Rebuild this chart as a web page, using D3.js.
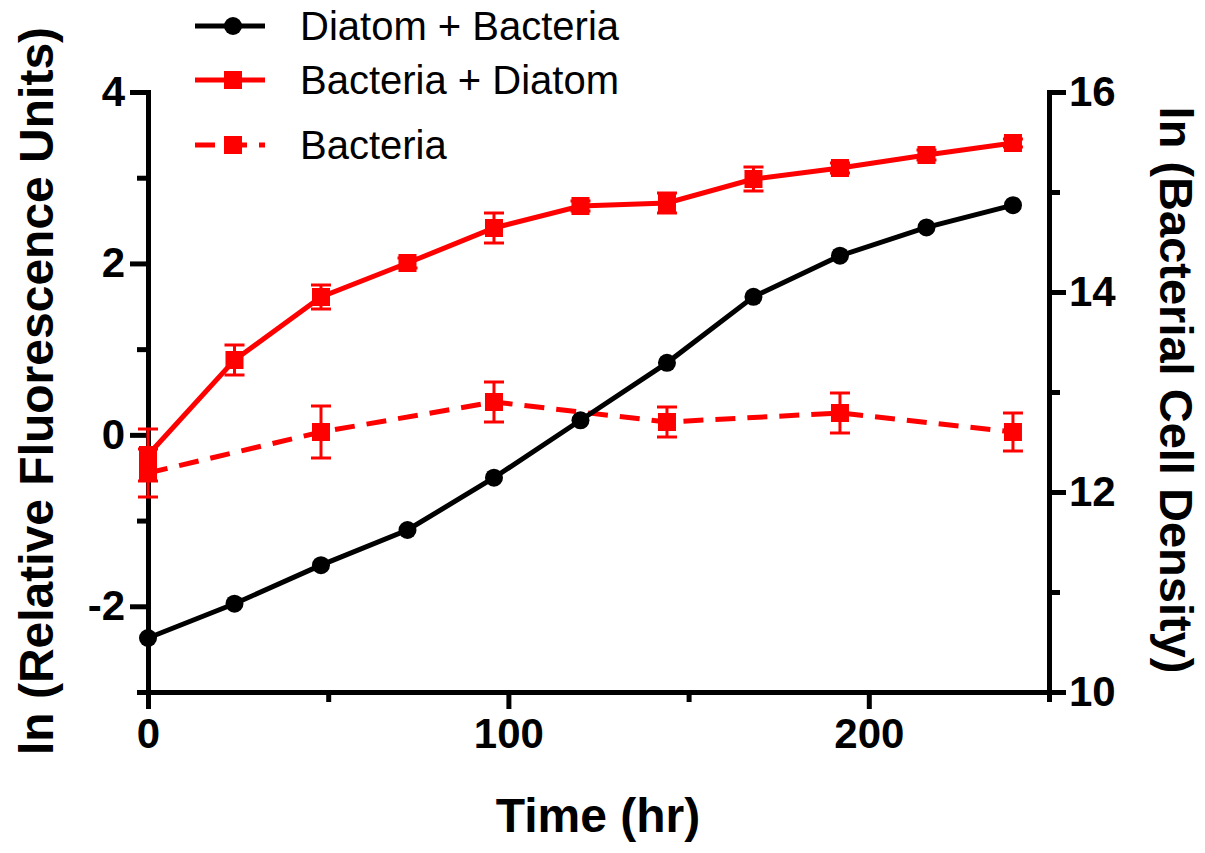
<!DOCTYPE html>
<html>
<head>
<meta charset="utf-8">
<script src="https://cdn.jsdelivr.net/npm/d3@7.9.0/dist/d3.min.js"></script>
<style>
  body { margin: 0; background: #fff; }
  svg { display: block; font-family: "Liberation Sans", Arial, Helvetica, sans-serif; }
  .axis path, .axis line { stroke: #000; stroke-width: 5; }
  .axis text { font-size: 42px; font-weight: bold; fill: #000; }
  .title { font-size: 48px; font-weight: bold; }
  .legend text { font-size: 40px; }
</style>
</head>
<body>
<svg id="chart" width="1205" height="853"></svg>
<script>
// ---- data ----
const hours = [0, 24, 48, 72, 96, 120, 144, 168, 192, 216, 240];
// ln relative fluorescence (left axis)
const diatomBacteria = [-2.37, -1.97, -1.52, -1.11, -0.50, 0.17, 0.84, 1.61, 2.09, 2.42, 2.68];
// ln bacterial cell density (right axis)
const bacteriaDiatom = [12.37, 13.32, 13.95, 14.29, 14.64, 14.86, 14.89, 15.13, 15.24, 15.37, 15.49];
const bacteriaDiatomErr = [0.26, 0.15, 0.12, 0.05, 0.15, 0.05, 0.10, 0.12, 0.05, 0.05, 0.04];
const bacteriaHours = [0, 48, 96, 144, 192, 240];
const bacteria = [12.19, 12.60, 12.90, 12.70, 12.79, 12.60];
const bacteriaErr = [0.24, 0.26, 0.20, 0.15, 0.20, 0.19];

const xMajor = [0, 100, 200];
const xMinor = [50, 150, 250];
const yLeftMajor = [4, 2, 0, -2];
const yLeftMinor = [3, 1, -1, -3];
const yRightMajor = [16, 14, 12, 10];
const yRightMinor = [15, 13, 11];

const legendItems = ['Diatom + Bacteria', 'Bacteria + Diatom', 'Bacteria'];

const RED = '#ff0000';

// ---- scales ----
const svg = d3.select('#chart');
const x = d3.scaleLinear().domain([0, 250]).range([148, 1049]);
const yL = d3.scaleLinear().domain([-3, 4]).range([692, 92]);
const yR = d3.scaleLinear().domain([10, 16]).range([692, 92]);

// plain hyphen for negatives, like the original
const fmt = d => String(d);

// ---- axes ----
function drawAxis(axis, transform) {
  const g = svg.append('g').attr('class', 'axis').attr('transform', transform).call(axis);
  g.select('.domain').attr('stroke-linecap', 'square');
  return g;
}
// minor ticks first, no labels
drawAxis(d3.axisBottom(x).tickValues(xMinor).tickSize(10).tickSizeOuter(0).tickFormat(''), 'translate(0,692)');
drawAxis(d3.axisLeft(yL).tickValues(yLeftMinor).tickSize(11).tickSizeOuter(0).tickFormat(''), 'translate(148,0)');
drawAxis(d3.axisRight(yR).tickValues(yRightMinor).tickSize(11).tickSizeOuter(0).tickFormat(''), 'translate(1049,0)');

drawAxis(d3.axisBottom(x).tickValues(xMajor).tickSize(17).tickSizeOuter(0).tickPadding(6).tickFormat(fmt), 'translate(0,692)')
  .selectAll('text').attr('dy', '0.78em');
drawAxis(d3.axisLeft(yL).tickValues(yLeftMajor).tickSize(18).tickSizeOuter(0).tickPadding(5).tickFormat(fmt), 'translate(148,0)');
drawAxis(d3.axisRight(yR).tickValues(yRightMajor).tickSize(17).tickSizeOuter(0).tickPadding(3).tickFormat(fmt), 'translate(1049,0)');

// ---- axis titles ----
svg.append('text').attr('class', 'title')
  .attr('x', 598).attr('y', 832).attr('text-anchor', 'middle')
  .text('Time (hr)');
svg.append('text').attr('class', 'title')
  .attr('transform', 'translate(53,391) rotate(-90)').attr('text-anchor', 'middle')
  .text('ln (Relative Fluorescence Units)');
svg.append('text').attr('class', 'title')
  .attr('transform', 'translate(1160,390) rotate(90)').attr('text-anchor', 'middle')
  .style('font-size', '47px')
  .text('ln (Bacterial Cell Density)');

// ---- series ----
function errorBars(xs, ys, errs, yScale) {
  const g = svg.append('g').attr('stroke', RED).attr('stroke-width', 3);
  xs.forEach((h, i) => {
    const cx = x(h), top = yScale(ys[i] + errs[i]), bot = yScale(ys[i] - errs[i]);
    g.append('line').attr('x1', cx).attr('x2', cx).attr('y1', top).attr('y2', bot);
    g.append('line').attr('x1', cx - 10).attr('x2', cx + 10).attr('y1', top).attr('y2', top);
    g.append('line').attr('x1', cx - 10).attr('x2', cx + 10).attr('y1', bot).attr('y2', bot);
  });
}

function squares(xs, ys, yScale) {
  svg.append('g').selectAll('rect').data(xs).enter().append('rect')
    .attr('x', d => x(d) - 9).attr('y', (d, i) => yScale(ys[i]) - 9)
    .attr('width', 18).attr('height', 18).attr('fill', RED);
}

const line = (xs, ys, yScale) => d3.line().x((d, i) => x(xs[i])).y((d, i) => yScale(ys[i]))(xs);

// Bacteria (dashed)
errorBars(bacteriaHours, bacteria, bacteriaErr, yR);
svg.append('path').attr('d', line(bacteriaHours, bacteria, yR))
  .attr('fill', 'none').attr('stroke', RED).attr('stroke-width', 5).attr('stroke-dasharray', '20,12');
squares(bacteriaHours, bacteria, yR);

// Bacteria + Diatom (solid)
errorBars(hours, bacteriaDiatom, bacteriaDiatomErr, yR);
svg.append('path').attr('d', line(hours, bacteriaDiatom, yR))
  .attr('fill', 'none').attr('stroke', RED).attr('stroke-width', 5);
squares(hours, bacteriaDiatom, yR);

// Diatom + Bacteria (black, left axis)
svg.append('path').attr('d', line(hours, diatomBacteria, yL))
  .attr('fill', 'none').attr('stroke', '#000').attr('stroke-width', 5);
svg.append('g').selectAll('circle').data(hours).enter().append('circle')
  .attr('cx', d => x(d)).attr('cy', (d, i) => yL(diatomBacteria[i])).attr('r', 9).attr('fill', '#000');

// ---- legend ----
const legend = svg.append('g').attr('class', 'legend');
const rowY = [26, 80, 145];
legendItems.forEach((label, i) => {
  const y = rowY[i];
  const col = i === 0 ? '#000' : RED;
  const ln = legend.append('line').attr('x1', 195).attr('x2', 265).attr('y1', y).attr('y2', y)
    .attr('stroke', col).attr('stroke-width', 5);
  if (i === 2) ln.attr('stroke-dasharray', '20,12');
  if (i === 0) legend.append('circle').attr('cx', 233).attr('cy', y).attr('r', 9).attr('fill', col);
  else legend.append('rect').attr('x', 224).attr('y', y - 9).attr('width', 18).attr('height', 18).attr('fill', col);
  legend.append('text').attr('x', 300).attr('y', y + 14).text(label);
});
</script>
</body>
</html>
